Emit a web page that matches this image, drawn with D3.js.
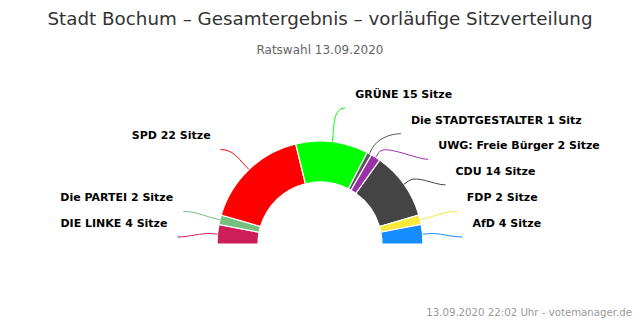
<!DOCTYPE html>
<html>
<head>
<meta charset="utf-8">
<script src="https://cdn.jsdelivr.net/npm/d3@7"></script>
<style>
  body { margin: 0; background: #fff; }
  svg { display: block; }
</style>
</head>
<body>
<div id="chart"></div>
<script>
// data
var parties = ["DIE LINKE", "Die PARTEI", "SPD", "GRÜNE", "Die STADTGESTALTER", "UWG: Freie Bürger", "CDU", "FDP", "AfD"];
var seats = [4, 2, 22, 15, 1, 2, 14, 2, 4];
var colors = ["#cc1f5a", "#74c07c", "#ff0000", "#00ff00", "#5a5a5a", "#9b30a8", "#444444", "#f7e83a", "#158cff"];

var width = 640,
	height = 320;

var cx = 320,
	cy = 244,
	outerR = 103,
	innerR = 62,
	labelR = 154;

var svg = d3.select("#chart").append("svg")
	.attr("width", width)
	.attr("height", height)
	.style("font-family", "'DejaVu Sans', sans-serif");

// titles
svg.append("text")
	.attr("x", width / 2).attr("y", 25)
	.attr("text-anchor", "middle")
	.style("font-size", "18.3px")
	.style("fill", "#333")
	.text("Stadt Bochum – Gesamtergebnis – vorläufige Sitzverteilung");

svg.append("text")
	.attr("x", width / 2).attr("y", 54)
	.attr("text-anchor", "middle")
	.style("font-size", "12px")
	.style("fill", "#666")
	.text("Ratswahl 13.09.2020");

svg.append("text")
	.attr("x", 632).attr("y", 316)
	.attr("text-anchor", "end")
	.style("font-size", "10.2px")
	.style("fill", "#999")
	.text("13.09.2020 22:02 Uhr - votemanager.de");

var data = parties.map(function(p, i) {
	return { name: p, seats: seats[i], color: colors[i] };
});

var pie = d3.pie()
	.sort(null)
	.value(function(d) { return d.seats; })
	.startAngle(-Math.PI / 2)
	.endAngle(Math.PI / 2);

var arcs = pie(data);

var arc = d3.arc()
	.innerRadius(innerR)
	.outerRadius(outerR);

var g = svg.append("g")
	.attr("transform", "translate(" + cx + "," + cy + ")");

g.selectAll("path.slice")
	.data(arcs)
	.enter().append("path")
	.attr("class", "slice")
	.attr("d", arc)
	.style("fill", function(d) { return d.data.color; })
	.style("stroke", "#fff")
	.style("stroke-width", 1.2);

// label layout (highcharts like)
var labelH = 25.6,
	maxY = 223 - cy;

arcs.forEach(function(d) {
	var a = (d.startAngle + d.endAngle) / 2; // 0 = top
	d.mid = a;
	d.side = a < 0 ? "left" : "right";
	d.ly = -labelR * Math.cos(a) + 3;
});

["left", "right"].forEach(function(side) {
	var list = arcs.filter(function(d) { return d.side === side; })
		.sort(function(a, b) { return a.ly - b.ly; });
	for (var i = 1; i < list.length; i++) {
		if (list[i].ly < list[i - 1].ly + labelH) list[i].ly = list[i - 1].ly + labelH;
	}
	if (list[list.length - 1].ly > maxY) list[list.length - 1].ly = maxY;
	for (var j = list.length - 2; j >= 0; j--) {
		if (list[j].ly > list[j + 1].ly - labelH) list[j].ly = list[j + 1].ly - labelH;
	}
});

arcs.forEach(function(d) {
	var dx = Math.sqrt(Math.max(0, labelR * labelR - d.ly * d.ly));
	d.lx = d.side === "left" ? -dx : dx;
});

// connectors
g.selectAll("path.connector")
	.data(arcs)
	.enter().append("path")
	.attr("class", "connector")
	.attr("d", function(d) {
		var sx = Math.sin(d.mid),
			sy = -Math.cos(d.mid);
		var t = [sx * outerR, sy * outerR];
		var b = [sx * (outerR + 6), sy * (outerR + 6)];
		var c1 = [sx * (outerR + 16), sy * (outerR + 16)];
		var dir = d.side === "left" ? 1 : -1;
		var e = [d.lx + dir * 10, d.ly + 14];
		var c2 = [e[0] + dir * 12, e[1]];
		return "M" + t + "L" + b + "C" + c1 + " " + c2 + " " + e;
	})
	.style("fill", "none")
	.style("stroke", function(d) { return d.data.color; })
	.style("stroke-width", 1);

// labels
g.selectAll("text.label")
	.data(arcs)
	.enter().append("text")
	.attr("class", "label")
	.attr("x", function(d) { return d.lx; })
	.attr("y", function(d) { return d.ly; })
	.attr("dy", "0.35em")
	.attr("text-anchor", function(d) { return d.side === "left" ? "end" : "start"; })
	.style("font-size", "11px")
	.style("font-weight", "bold")
	.style("fill", "#000")
	.text(function(d) {
		return d.data.name + " " + d.data.seats + (d.data.seats === 1 ? " Sitz" : " Sitze");
	});
</script>
</body>
</html>
